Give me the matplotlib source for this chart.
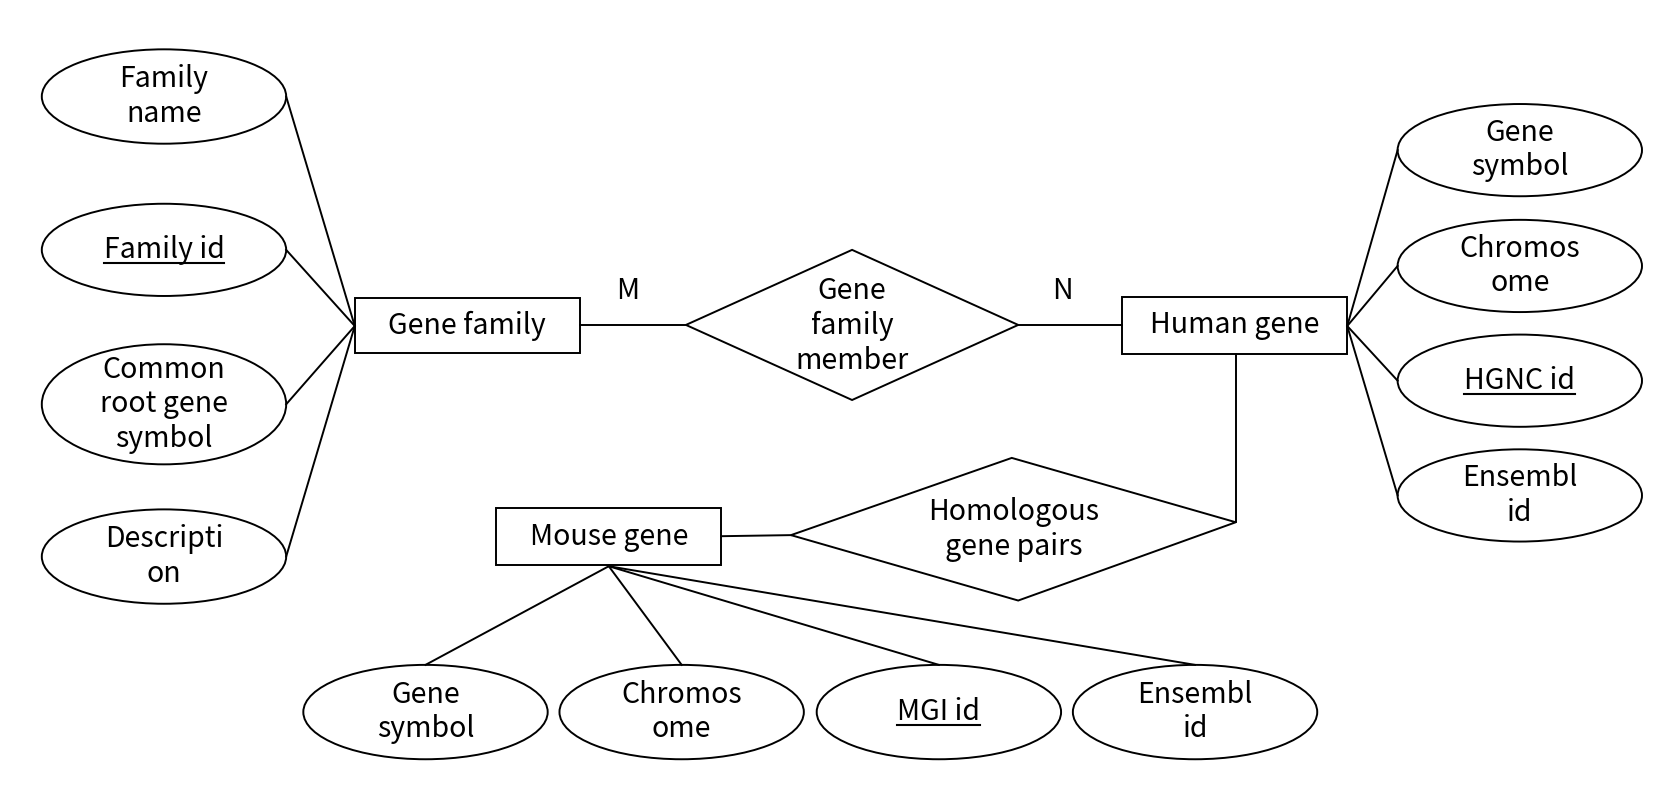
import matplotlib.pyplot as plt
from matplotlib.patches import Ellipse, Rectangle, Polygon

plt.rcParams['font.family'] = ['Noto Sans CJK SC', 'DejaVu Sans']

# reference drawn in a 1560 x 746 frame
W, H = 1560, 746
LW = 1.4
FS = 20.5

# entities: label, x0, y0, x1, y1
entities = [
    ("Gene family", 331, 278, 541, 329),
    ("Human gene", 1047, 277, 1257, 330),
    ("Mouse gene", 463, 474, 673, 527),
]

# attributes: label, cx, cy, height, underlined, attach side, anchor (x, y)
attributes = [
    ("Family\nname", 153, 90, 88, False, "right", (331, 304)),
    ("Family id", 153, 233, 86, True, "right", (331, 304)),
    ("Common\nroot gene\nsymbol", 153, 377, 112, False, "right", (331, 304)),
    ("Descripti\non", 153, 519, 88, False, "right", (331, 304)),
    ("Gene\nsymbol", 1418, 140, 86, False, "left", (1257, 304)),
    ("Chromos\nome", 1418, 248, 86, False, "left", (1257, 304)),
    ("HGNC id", 1418, 355, 86, True, "left", (1257, 304)),
    ("Ensembl\nid", 1418, 462, 86, False, "left", (1257, 304)),
    ("Gene\nsymbol", 397, 664, 88, False, "top", (568, 528)),
    ("Chromos\nome", 636, 664, 88, False, "top", (568, 528)),
    ("MGI id", 876, 664, 88, True, "top", (568, 528)),
    ("Ensembl\nid", 1115, 664, 88, False, "top", (568, 528)),
]
ELL_W = 228

# relationships: label, text pos, polygon points
relations = [
    ("Gene\nfamily\nmember", (795, 304), [(640, 303), (795, 233), (950, 303), (795, 373)]),
    ("Homologous\ngene pairs", (946, 494), [(738, 499), (944, 427), (1153, 487), (950, 560)]),
]

# connecting lines
links = [
    [(541, 303), (640, 303)],
    [(950, 303), (1047, 303)],
    [(1153, 330), (1153, 487)],
    [(673, 500), (738, 499)],
]
cardinality = [("M", 586, 271), ("N", 991, 271)]

fig = plt.figure(figsize=(16.72, 8), dpi=100)
ax = fig.add_axes([0, 0, 1, 1])
ax.set_xlim(0, W)
ax.set_ylim(H, 0)
ax.axis('off')

for label, x0, y0, x1, y1 in entities:
    ax.add_patch(Rectangle((x0, y0), x1 - x0, y1 - y0, fill=False, lw=LW, ec='black'))
    ax.text((x0 + x1) / 2, (y0 + y1) / 2, label, ha='center', va='center', fontsize=FS)

fig.canvas.draw()
for label, cx, cy, h, under, side, (qx, qy) in attributes:
    ax.add_patch(Ellipse((cx, cy), ELL_W, h, fill=False, lw=LW, ec='black'))
    t = ax.text(cx, cy, label, ha='center', va='center', fontsize=FS, linespacing=1.2)
    if side == "right":
        px, py = cx + ELL_W / 2, cy
    elif side == "left":
        px, py = cx - ELL_W / 2, cy
    else:
        px, py = cx, cy - h / 2
    ax.plot([qx, px], [qy, py], color='black', lw=LW)
    if under:
        bb = t.get_window_extent(renderer=fig.canvas.get_renderer()).transformed(ax.transData.inverted())
        yl = max(bb.y0, bb.y1) - 2
        ax.plot([bb.x0, bb.x1], [yl, yl], color='black', lw=1.5)

for label, (tx, ty), pts in relations:
    ax.add_patch(Polygon(pts, closed=True, fill=False, lw=LW, ec='black'))
    ax.text(tx, ty, label, ha='center', va='center', fontsize=FS, linespacing=1.2)

for seg in links:
    xs, ys = zip(*seg)
    ax.plot(xs, ys, color='black', lw=LW)

for lab, x, y in cardinality:
    ax.text(x, y, lab, ha='center', va='center', fontsize=FS)

fig.savefig('out.png', dpi=100, facecolor='white')
